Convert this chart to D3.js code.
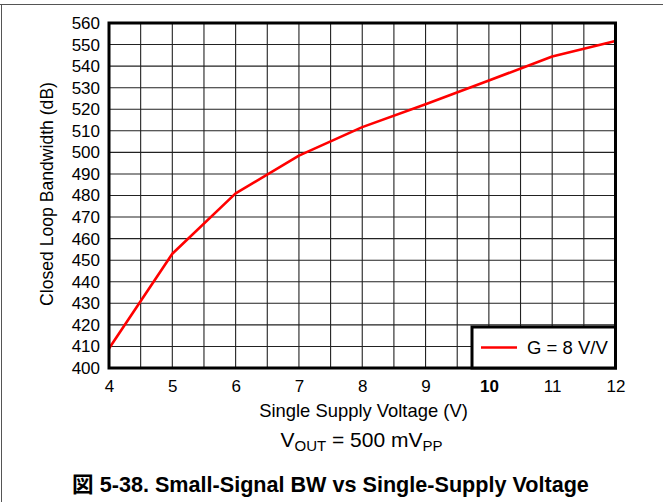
<!DOCTYPE html>
<html><head><meta charset="utf-8">
<script src="https://cdn.jsdelivr.net/npm/d3@7"></script>
<style>body{margin:0;background:#fff}svg{display:block}</style>
</head><body>
<script>
const voltage = [4, 5, 6, 7, 8, 9, 10, 11, 12];
const bandwidth = [409, 453, 481, 498.5, 511.7, 522.3, 533.3, 544.5, 551.7];
const yTicks = d3.range(400, 561, 10);
const xTicks = [4, 5, 6, 7, 8, 9, 10, 11, 12];
const xGrid = d3.range(4, 12.01, 0.5);
const seriesLabel = "G = 8 V/V";

const W = 663, H = 502;
const font = "Liberation Sans, Arial, sans-serif";
const svg = d3.select("body").append("svg").attr("width", W).attr("height", H);

// outer frame
svg.append("line").attr("x1", 0).attr("x2", W).attr("y1", 4.5).attr("y2", 4.5).attr("stroke", "#555").attr("stroke-width", 1);
svg.append("line").attr("x1", 1.5).attr("x2", 1.5).attr("y1", 4.5).attr("y2", H).attr("stroke", "#555").attr("stroke-width", 1);

const L = 109, T = 23, R = 615.5, B = 368;
const x = d3.scaleLinear().domain([4, 12]).range([L, R]);
const y = d3.scaleLinear().domain([400, 560]).range([B, T]);

const g = svg.append("g");
// grid
g.selectAll(".vg").data(xGrid).enter().append("line")
  .attr("x1", d => x(d)).attr("x2", d => x(d)).attr("y1", T).attr("y2", B)
  .attr("stroke", "#222").attr("stroke-width", 1.1);
g.selectAll(".hg").data(yTicks).enter().append("line")
  .attr("x1", L).attr("x2", R).attr("y1", d => y(d)).attr("y2", d => y(d))
  .attr("stroke", "#222").attr("stroke-width", 1.1);

// line
const line = d3.line().x((d, i) => x(voltage[i])).y(d => y(d));
g.append("path").datum(bandwidth).attr("d", line).attr("fill", "none")
  .attr("stroke", "#ff0000").attr("stroke-width", 2.6).attr("stroke-linejoin", "round");

// plot border
g.append("rect").attr("x", L).attr("y", T).attr("width", R - L).attr("height", B - T)
  .attr("fill", "none").attr("stroke", "#000").attr("stroke-width", 3);

// axes labels
const yAxis = d3.axisLeft(y).tickValues(yTicks).tickSize(0).tickPadding(9);
const ya = svg.append("g").attr("transform", `translate(${L},0)`).call(yAxis);
ya.select(".domain").remove();
ya.selectAll("text").attr("font-family", font).attr("font-size", 17).attr("fill", "#000");

const xAxis = d3.axisBottom(x).tickValues(xTicks).tickSize(0).tickPadding(12);
const xa = svg.append("g").attr("transform", `translate(0,${B})`).call(xAxis);
xa.select(".domain").remove();
xa.selectAll("text").attr("font-family", font).attr("font-size", 17).attr("fill", "#000")
  .attr("font-weight", d => d === 10 ? "bold" : "normal");

svg.append("text").attr("x", 363.5).attr("y", 416.5).attr("text-anchor", "middle")
  .attr("font-family", font).attr("font-size", 18.4).text("Single Supply Voltage (V)");
svg.append("text").attr("transform", `translate(52.5,194) rotate(-90)`).attr("text-anchor", "middle")
  .attr("font-family", font).attr("font-size", 17.6).text("Closed Loop Bandwidth (dB)");

// legend
const lg = svg.append("g");
lg.append("rect").attr("x", 472).attr("y", 327).attr("width", R - 472).attr("height", B - 327)
  .attr("fill", "#fff").attr("stroke", "#000").attr("stroke-width", 3);
lg.append("line").attr("x1", 481).attr("x2", 517).attr("y1", 347.5).attr("y2", 347.5)
  .attr("stroke", "#ff0000").attr("stroke-width", 2.6);
lg.append("text").attr("x", 527).attr("y", 354).attr("font-family", font).attr("font-size", 18.5).text(seriesLabel);

// condition
const c = svg.append("text").attr("x", 361.5).attr("y", 447).attr("text-anchor", "middle")
  .attr("font-family", font).attr("font-size", 21);
c.append("tspan").text("V");
c.append("tspan").attr("font-size", 15).attr("dy", 4).text("OUT");
c.append("tspan").attr("dy", -4).text(" = 500 mV");
c.append("tspan").attr("font-size", 15).attr("dy", 4).text("PP");

// caption
svg.append("text").attr("x", 330.5).attr("y", 491.5).attr("text-anchor", "middle")
  .attr("font-family", "Liberation Sans, Arial, 'Noto Sans CJK JP', sans-serif").attr("font-weight", "bold").attr("font-size", 21.6)
  .text("図 5-38. Small-Signal BW vs Single-Supply Voltage");
</script>
</body></html>
